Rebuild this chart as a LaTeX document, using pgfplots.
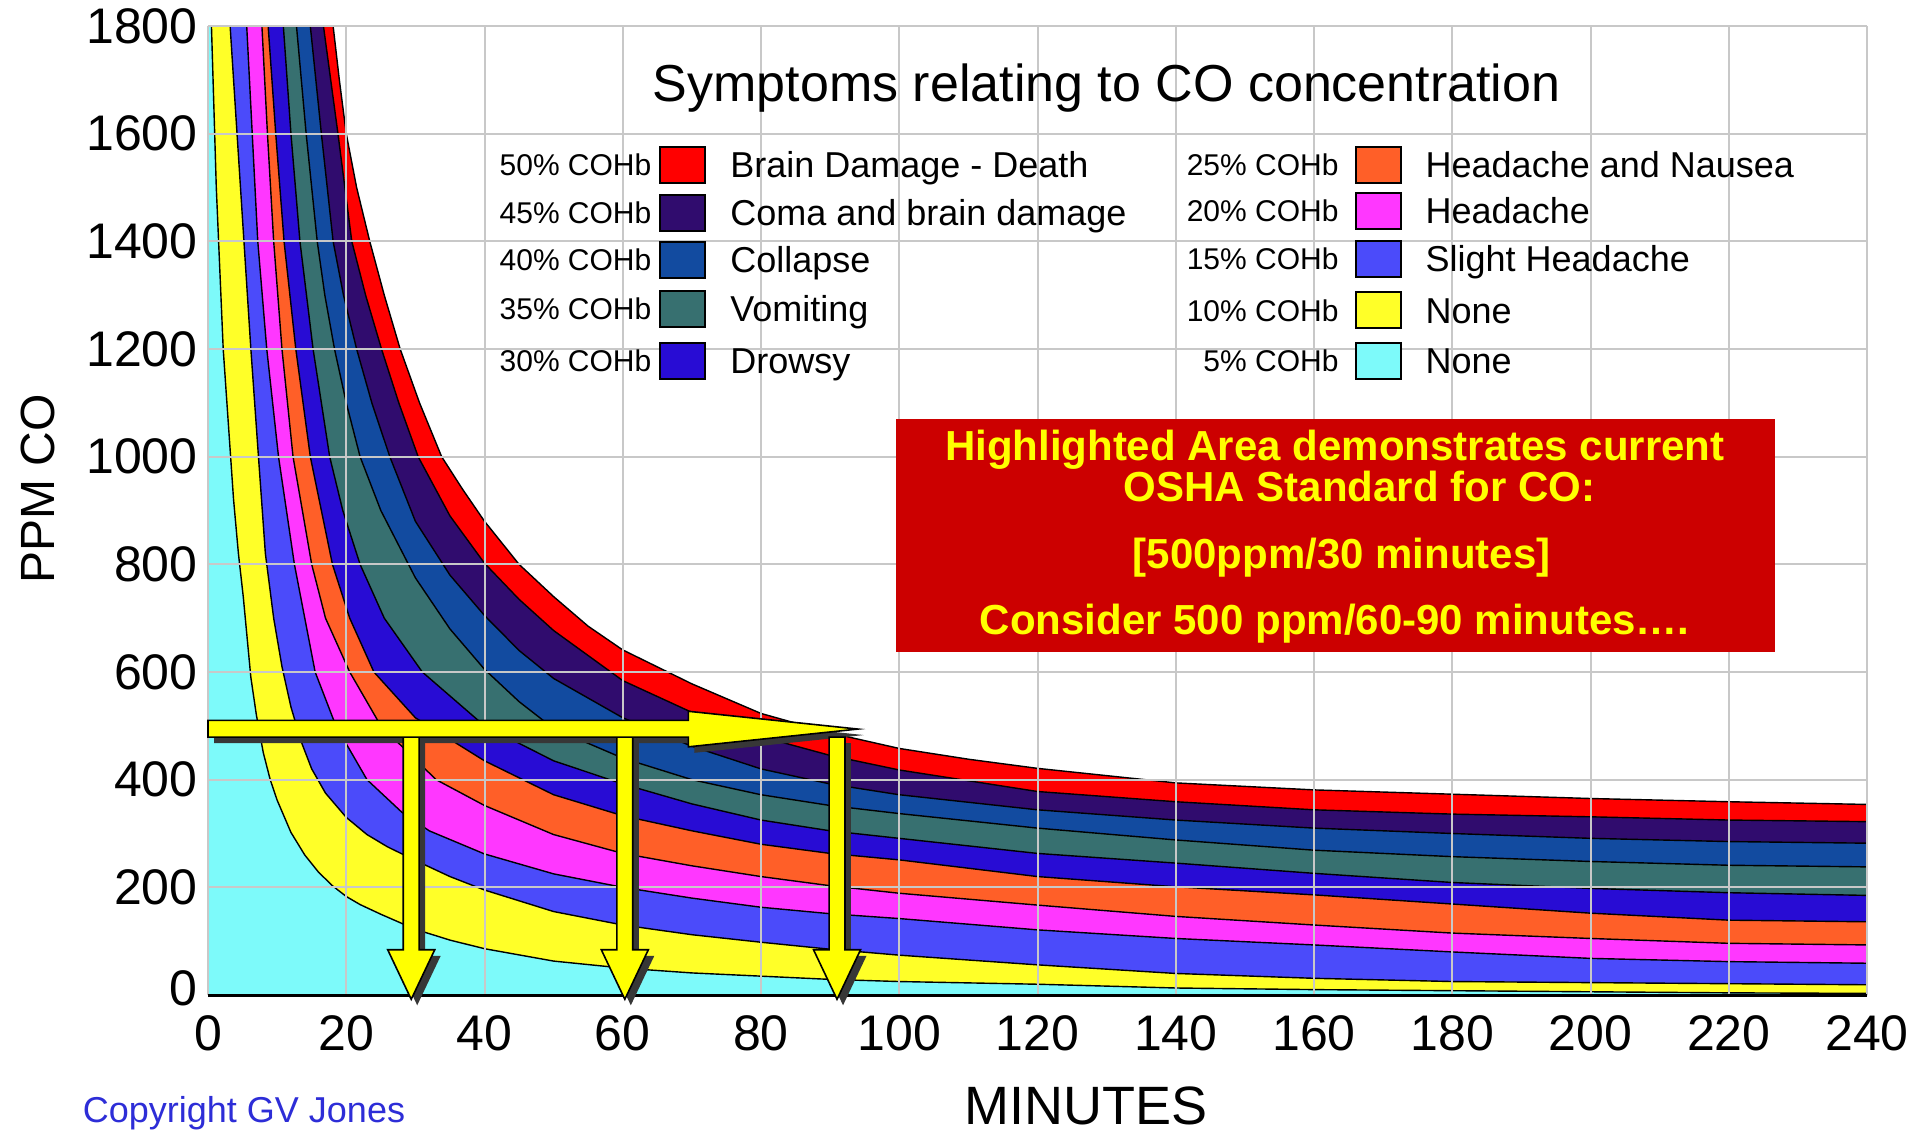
\documentclass[border=0pt]{standalone}
\usepackage{pgfplots}
\usepackage{pgfplotstable}
\pgfplotsset{compat=1.18}
\usepackage{fontspec}
\setmainfont{Liberation Sans}

\definecolor{cRed}{RGB}{255,0,0}
\definecolor{cComa}{RGB}{48,12,110}
\definecolor{cCollapse}{RGB}{18,75,160}
\definecolor{cVomit}{RGB}{55,112,112}
\definecolor{cDrowsy}{RGB}{40,12,212}
\definecolor{cNausea}{RGB}{255,95,40}
\definecolor{cHead}{RGB}{255,55,255}
\definecolor{cSlight}{RGB}{75,75,250}
\definecolor{cNoneA}{RGB}{255,255,40}
\definecolor{cNoneB}{RGB}{125,250,250}
\definecolor{cGrid}{RGB}{200,200,200}
\definecolor{cBox}{RGB}{204,0,0}
\definecolor{cArrow}{RGB}{255,255,0}
\definecolor{cShadow}{RGB}{55,55,55}
\definecolor{cCopy}{RGB}{45,45,215}

\pgfplotstableread{
t ppm
0 1800
18.1 1800
19 1700
20 1600
21.5 1500
23.4 1400
25.5 1300
27.8 1200
30.6 1100
33.8 1000
36.8 940
40 880
45 800
50 740
55 685
60 641
70 578
80 523
90 487
100 458
110 438
120 421
140 394
160 381
180 373
200 365
220 359
240 354
}\tRed

\pgfplotstableread{
t ppm
0 1800
16.7 1800
18.8 1600
20.8 1400
22.8 1300
25.1 1200
27.6 1100
30.4 1000
35 890
40 802
45 735
50 677
60 584
70 525
80 480
90 445
100 418
120 378
140 359
160 344
180 336
200 331
220 325
240 322
}\tComa

\pgfplotstableread{
t ppm
0 1800
14.8 1800
16.4 1600
18.1 1400
19.6 1300
21.5 1200
23.7 1100
26.3 1000
30 880
35 780
40 705
45 640
50 588
60 515
70 462
80 420
90 392
100 372
120 344
140 325
160 310
180 300
200 291
220 285
240 282
}\tCollapse

\pgfplotstableread{
t ppm
0 1800
12.8 1800
14.2 1600
15.8 1400
16.9 1300
18.3 1200
20 1100
22 1000
25 900
30 775
35 680
40 605
45 545
50 495
60 440
70 400
80 372
90 352
100 337
120 310
140 288
160 269
180 257
200 248
220 241
240 238
}\tVomit

\pgfplotstableread{
t ppm
0 1800
10.9 1800
12 1600
13.3 1400
15.2 1200
17.6 1000
19.5 900
22 800
25.5 700
31 600
40 500
50 435
60 392
70 355
80 325
90 305
100 291
120 263
140 245
160 226
180 209
200 198
220 190
240 185
}\tDrowsy

\pgfplotstableread{
t ppm
0 1800
8.7 1800
9.8 1600
11 1400
12.7 1200
14.8 1000
18 800
20.5 700
24 600
30 515
40 435
50 372
60 333
70 305
80 280
90 263
100 251
120 220
140 201
160 186
180 169
200 152
220 139
240 136
}\tNausea

\pgfplotstableread{
t ppm
0 1800
7.8 1800
8.6 1600
9.5 1400
10.7 1200
12.3 1000
15 800
17 700
20.5 600
25 500
33 400
40 352
50 298
60 263
70 240
80 220
90 203
100 189
120 167
140 146
160 130
180 115
200 105
220 96
240 93
}\tHead

\pgfplotstableread{
t ppm
0 1800
5.6 1800
6.4 1600
7.2 1400
8.5 1200
10.2 1000
12.5 800
15.5 600
18.5 500
23 400
28 340
32 305
40 262
50 225
60 200
70 180
80 163
90 151
100 142
120 121
140 105
160 93
180 80
200 68
220 62
240 59
}\tSlight

\pgfplotstableread{
t ppm
0 1800
3.2 1800
4.2 1600
5.2 1400
6.2 1200
7.3 1000
8.3 820
9.5 700
10.7 610
12 535
13.5 470
15 420
17 375
20 330
23 298
26 275
30 250
35 220
40 195
50 155
60 130
70 112
80 98
90 85
100 74
120 56
140 40
160 31
180 25
200 23
220 21
240 19
}\tNoneA

\pgfplotstableread{
t ppm
0 1800
0.5 1800
1.2 1500
2.2 1200
3.7 920
4.4 820
5.1 740
6.2 590
7 520
8 450
9 400
10 362
12 302
14 260
16 228
18 203
20 183
22 168
25 150
30 122
35 102
40 86
50 63
60 50
70 41
80 35
90 29
100 25
120 20
140 13
160 10
180 8
200 6
220 4
240 3
}\tNoneB

\begin{document}
\begin{tikzpicture}
\useasboundingbox (0,0) rectangle (958.5pt,568pt);
\begin{axis}[
  at={(104pt,70.5pt)}, anchor=south west,
  scale only axis, width=829.5pt, height=484.5pt,
  xmin=0, xmax=240, ymin=0, ymax=1800,
  xtick={0,20,...,240}, ytick={0,200,...,1800},
  yticklabels={\raisebox{7pt}{0},200,400,600,800,1000,1200,1400,1600,1800},
  axis line style={draw=none},
  major tick length=0pt,
  no markers,
  clip=false,
  /pgf/number format/1000 sep={},
  /pgf/number format/assume math mode=true,
  tick label style={font=\fontsize{25}{28}\selectfont, inner sep=0pt},
  xticklabel style={anchor=center, yshift=-19pt},
  yticklabel style={anchor=east, xshift=-5pt},
]
% stacked symptom bands
\addplot[fill=cRed, draw=none] table {\tRed} \closedcycle;
\addplot[black, line width=0.7pt] table {\tRed};
\addplot[fill=cComa, draw=none] table {\tComa} \closedcycle;
\addplot[black, line width=0.7pt] table {\tComa};
\addplot[fill=cCollapse, draw=none] table {\tCollapse} \closedcycle;
\addplot[black, line width=0.7pt] table {\tCollapse};
\addplot[fill=cVomit, draw=none] table {\tVomit} \closedcycle;
\addplot[black, line width=0.7pt] table {\tVomit};
\addplot[fill=cDrowsy, draw=none] table {\tDrowsy} \closedcycle;
\addplot[black, line width=0.7pt] table {\tDrowsy};
\addplot[fill=cNausea, draw=none] table {\tNausea} \closedcycle;
\addplot[black, line width=0.7pt] table {\tNausea};
\addplot[fill=cHead, draw=none] table {\tHead} \closedcycle;
\addplot[black, line width=0.7pt] table {\tHead};
\addplot[fill=cSlight, draw=none] table {\tSlight} \closedcycle;
\addplot[black, line width=0.7pt] table {\tSlight};
\addplot[fill=cNoneA, draw=none] table {\tNoneA} \closedcycle;
\addplot[black, line width=0.7pt] table {\tNoneA};
\addplot[fill=cNoneB, draw=none] table {\tNoneB} \closedcycle;
\addplot[black, line width=0.7pt] table {\tNoneB};

% grid on top of the bands
\pgfplotsinvokeforeach{0,20,...,240}{\draw[cGrid, line width=1pt] (axis cs:#1,0) -- (axis cs:#1,1800);}
\pgfplotsinvokeforeach{200,400,...,1800}{\draw[cGrid, line width=1pt] (axis cs:0,#1) -- (axis cs:240,#1);}
\draw[black, line width=1.5pt] (axis cs:0,0) -- (axis cs:240,0);

% title
\node[font=\fontsize{26}{30}\selectfont, anchor=base, inner sep=0pt, yshift=-9.3pt] at (axis cs:130,1694) {Symptoms relating to CO concentration};

% legend, left column
\node[font=\fontsize{15}{17}\selectfont, anchor=base east, inner sep=0pt, yshift=-5.4pt] at (axis cs:64.2,1542) {50\% COHb};
\node[font=\fontsize{15}{17}\selectfont, anchor=base east, inner sep=0pt, yshift=-5.4pt] at (axis cs:64.2,1453) {45\% COHb};
\node[font=\fontsize{15}{17}\selectfont, anchor=base east, inner sep=0pt, yshift=-5.4pt] at (axis cs:64.2,1365) {40\% COHb};
\node[font=\fontsize{15}{17}\selectfont, anchor=base east, inner sep=0pt, yshift=-5.4pt] at (axis cs:64.2,1274) {35\% COHb};
\node[font=\fontsize{15}{17}\selectfont, anchor=base east, inner sep=0pt, yshift=-5.4pt] at (axis cs:64.2,1178) {30\% COHb};
\node[draw=black, fill=cRed, line width=0.8pt, minimum width=22.5pt, minimum height=18pt, inner sep=0pt] at (axis cs:68.65,1542) {};
\node[draw=black, fill=cComa, line width=0.8pt, minimum width=22.5pt, minimum height=18pt, inner sep=0pt] at (axis cs:68.65,1453) {};
\node[draw=black, fill=cCollapse, line width=0.8pt, minimum width=22.5pt, minimum height=18pt, inner sep=0pt] at (axis cs:68.65,1365) {};
\node[draw=black, fill=cVomit, line width=0.8pt, minimum width=22.5pt, minimum height=18pt, inner sep=0pt] at (axis cs:68.65,1274) {};
\node[draw=black, fill=cDrowsy, line width=0.8pt, minimum width=22.5pt, minimum height=18pt, inner sep=0pt] at (axis cs:68.65,1178) {};
\node[font=\fontsize{18}{21}\selectfont, anchor=base west, inner sep=0pt, yshift=-6.4pt] at (axis cs:75.5,1542) {Brain Damage - Death};
\node[font=\fontsize{18}{21}\selectfont, anchor=base west, inner sep=0pt, yshift=-6.4pt] at (axis cs:75.5,1453) {Coma and brain damage};
\node[font=\fontsize{18}{21}\selectfont, anchor=base west, inner sep=0pt, yshift=-6.4pt] at (axis cs:75.5,1365) {Collapse};
\node[font=\fontsize{18}{21}\selectfont, anchor=base west, inner sep=0pt, yshift=-6.4pt] at (axis cs:75.5,1274) {Vomiting};
\node[font=\fontsize{18}{21}\selectfont, anchor=base west, inner sep=0pt, yshift=-6.4pt] at (axis cs:75.5,1178) {Drowsy};

% legend, right column
\node[font=\fontsize{15}{17}\selectfont, anchor=base east, inner sep=0pt, yshift=-5.4pt] at (axis cs:163.6,1542) {25\% COHb};
\node[font=\fontsize{15}{17}\selectfont, anchor=base east, inner sep=0pt, yshift=-5.4pt] at (axis cs:163.6,1456) {20\% COHb};
\node[font=\fontsize{15}{17}\selectfont, anchor=base east, inner sep=0pt, yshift=-5.4pt] at (axis cs:163.6,1367) {15\% COHb};
\node[font=\fontsize{15}{17}\selectfont, anchor=base east, inner sep=0pt, yshift=-5.4pt] at (axis cs:163.6,1272) {10\% COHb};
\node[font=\fontsize{15}{17}\selectfont, anchor=base east, inner sep=0pt, yshift=-5.4pt] at (axis cs:163.6,1178) {5\% COHb};
\node[draw=black, fill=cNausea, line width=0.8pt, minimum width=22.5pt, minimum height=18pt, inner sep=0pt] at (axis cs:169.3,1542) {};
\node[draw=black, fill=cHead, line width=0.8pt, minimum width=22.5pt, minimum height=18pt, inner sep=0pt] at (axis cs:169.3,1456) {};
\node[draw=black, fill=cSlight, line width=0.8pt, minimum width=22.5pt, minimum height=18pt, inner sep=0pt] at (axis cs:169.3,1367) {};
\node[draw=black, fill=cNoneA, line width=0.8pt, minimum width=22.5pt, minimum height=18pt, inner sep=0pt] at (axis cs:169.3,1272) {};
\node[draw=black, fill=cNoneB, line width=0.8pt, minimum width=22.5pt, minimum height=18pt, inner sep=0pt] at (axis cs:169.3,1178) {};
\node[font=\fontsize{18}{21}\selectfont, anchor=base west, inner sep=0pt, yshift=-6.4pt] at (axis cs:176.1,1542) {Headache and Nausea};
\node[font=\fontsize{18}{21}\selectfont, anchor=base west, inner sep=0pt, yshift=-6.4pt] at (axis cs:176.1,1456) {Headache};
\node[font=\fontsize{18}{21}\selectfont, anchor=base west, inner sep=0pt, yshift=-6.4pt] at (axis cs:176.1,1367) {Slight Headache};
\node[font=\fontsize{18}{21}\selectfont, anchor=base west, inner sep=0pt, yshift=-6.4pt] at (axis cs:176.1,1272) {None};
\node[font=\fontsize{18}{21}\selectfont, anchor=base west, inner sep=0pt, yshift=-6.4pt] at (axis cs:176.1,1178) {None};

% red annotation box
\fill[cBox] (axis cs:99.5,637) rectangle (axis cs:226.7,1070);
\node[font=\fontsize{21}{25}\selectfont\bfseries, text=cArrow, anchor=base, inner sep=0pt, yshift=-7.5pt] at (axis cs:163,1020) {Highlighted Area demonstrates current};
\node[font=\fontsize{21}{25}\selectfont\bfseries, text=cArrow, anchor=base, inner sep=0pt, yshift=-7.5pt] at (axis cs:166.6,944) {OSHA Standard for CO:};
\node[font=\fontsize{21}{25}\selectfont\bfseries, text=cArrow, anchor=base, inner sep=0pt, yshift=-7.5pt] at (axis cs:164,821) {[500ppm/30 minutes]};
\node[font=\fontsize{21}{25}\selectfont\bfseries, text=cArrow, anchor=base, inner sep=0pt, yshift=-7.5pt] at (axis cs:163,697) {Consider 500 ppm/60-90 minutes….};

% arrow shadows
\fill[cShadow, xshift=3pt, yshift=-3pt] (axis cs:28.25,479) -- (axis cs:30.55,479) -- (axis cs:30.55,84) -- (axis cs:32.8,84) -- (axis cs:29.4,-8) -- (axis cs:26.0,84) -- (axis cs:28.25,84) -- cycle;
\fill[cShadow, xshift=3pt, yshift=-3pt] (axis cs:59.15,479) -- (axis cs:61.45,479) -- (axis cs:61.45,84) -- (axis cs:63.7,84) -- (axis cs:60.3,-8) -- (axis cs:56.9,84) -- (axis cs:59.15,84) -- cycle;
\fill[cShadow, xshift=3pt, yshift=-3pt] (axis cs:89.85,479) -- (axis cs:92.15,479) -- (axis cs:92.15,84) -- (axis cs:94.4,84) -- (axis cs:91.0,-8) -- (axis cs:87.6,84) -- (axis cs:89.85,84) -- cycle;
\fill[cShadow, xshift=3pt, yshift=-3pt] (axis cs:0,510) -- (axis cs:69.5,510) -- (axis cs:69.5,527) -- (axis cs:94,494) -- (axis cs:69.5,461) -- (axis cs:69.5,479) -- (axis cs:0,479) -- cycle;
% arrows
\filldraw[fill=cArrow, draw=black, line width=0.8pt] (axis cs:28.25,479) -- (axis cs:30.55,479) -- (axis cs:30.55,84) -- (axis cs:32.8,84) -- (axis cs:29.4,-8) -- (axis cs:26.0,84) -- (axis cs:28.25,84) -- cycle;
\filldraw[fill=cArrow, draw=black, line width=0.8pt] (axis cs:59.15,479) -- (axis cs:61.45,479) -- (axis cs:61.45,84) -- (axis cs:63.7,84) -- (axis cs:60.3,-8) -- (axis cs:56.9,84) -- (axis cs:59.15,84) -- cycle;
\filldraw[fill=cArrow, draw=black, line width=0.8pt] (axis cs:89.85,479) -- (axis cs:92.15,479) -- (axis cs:92.15,84) -- (axis cs:94.4,84) -- (axis cs:91.0,-8) -- (axis cs:87.6,84) -- (axis cs:89.85,84) -- cycle;
\filldraw[fill=cArrow, draw=black, line width=0.8pt] (axis cs:0,510) -- (axis cs:69.5,510) -- (axis cs:69.5,527) -- (axis cs:94,494) -- (axis cs:69.5,461) -- (axis cs:69.5,479) -- (axis cs:0,479) -- cycle;
\end{axis}

\node[font=\fontsize{27}{31}\selectfont, anchor=base, inner sep=0pt] at (543pt,6pt) {MINUTES};
\node[font=\fontsize{24}{28}\selectfont, anchor=base, rotate=90, inner sep=0pt] at (27.1pt,323.5pt) {PPM CO};
\node[font=\fontsize{18}{21}\selectfont, text=cCopy, anchor=base, inner sep=0pt] at (122pt,7pt) {Copyright GV Jones};
\end{tikzpicture}
\end{document}
